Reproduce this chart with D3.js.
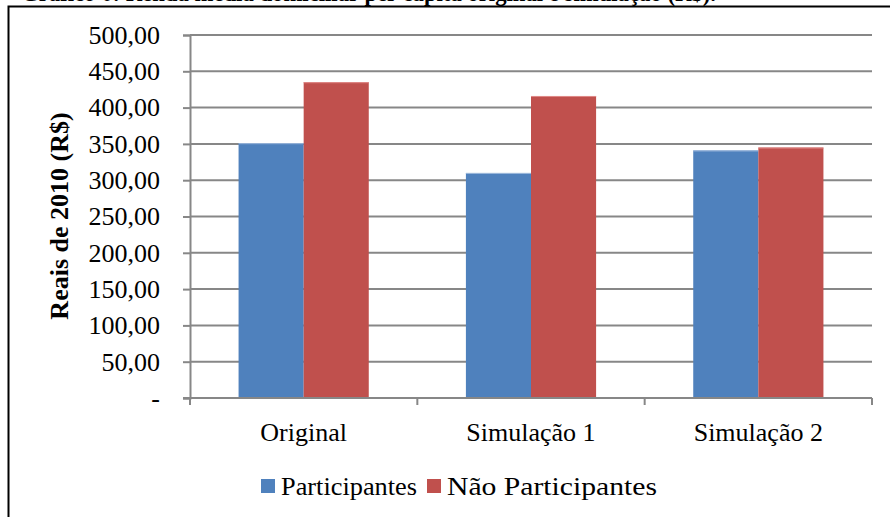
<!DOCTYPE html>
<html>
<head>
<meta charset="utf-8">
<script src="https://cdn.jsdelivr.net/npm/d3@7"></script>
<style>
  html, body { margin: 0; padding: 0; background: #fff; }
  svg { display: block; font-family: "Liberation Serif", "Times New Roman", serif; }
</style>
</head>
<body>
<svg id="chart" width="890" height="517"></svg>
<script>
// Mean income by scenario, in 2010 reais
const categories = ["Original", "Simulação 1", "Simulação 2"];
const seriesNames = ["Participantes", "Não Participantes"];
const participantes = [351, 310, 341];
const naoParticipantes = [435, 416, 345];
const yTicks = [0, 50, 100, 150, 200, 250, 300, 350, 400, 450, 500];
const colors = ["#4F81BD", "#C0504D"];

const svg = d3.select("#chart");
const W = 890, H = 517;
const FS = 26;
const GRID = "#878787";

// Figure caption above the frame (runs off the top of the page)
svg.append("text")
  .attr("x", 21).attr("y", 1)
  .attr("font-size", FS).attr("font-weight", "bold")
  .attr("textLength", 695).attr("lengthAdjust", "spacingAndGlyphs")
  .attr("fill", "#000")
  .text("Gráfico 6: Renda média domiciliar per capita original e simulação (R$).");

// Frame around the chart
svg.append("path")
  .attr("d", `M8.5,${H + 2} V6.5 H${W + 2}`)
  .attr("fill", "none").attr("stroke", "#000").attr("stroke-width", 2);

const plot = { left: 190, right: 872, top: 35, bottom: 398 };

const x = d3.scaleBand().domain(categories).range([plot.left, plot.right]);
const y = d3.scaleLinear().domain([0, 500]).range([plot.bottom, plot.top]);

// Horizontal gridlines
svg.append("g").selectAll("line").data(yTicks.filter(d => d > 0)).join("line")
  .attr("x1", plot.left).attr("x2", plot.right)
  .attr("y1", d => y(d)).attr("y2", d => y(d))
  .attr("stroke", GRID).attr("stroke-width", 2);

// Bars: two series side by side in each category band
const groupFrac = 130 / 227;
const bw = x.bandwidth() * groupFrac / 2;
const data = categories.map((c, i) => ({ c, vals: [participantes[i], naoParticipantes[i]] }));
const groups = svg.append("g").selectAll("g").data(data).join("g")
  .attr("transform", d => `translate(${x(d.c) + (x.bandwidth() - 2 * bw) / 2},0)`);
groups.selectAll("rect").data(d => d.vals).join("rect")
  .attr("x", (d, i) => i * bw)
  .attr("y", d => y(d))
  .attr("width", bw)
  .attr("height", d => y(0) - y(d))
  .attr("fill", (d, i) => colors[i]);
// light edge along the bar tops
groups.selectAll("line.edge").data(d => d.vals).join("line")
  .attr("class", "edge")
  .attr("x1", (d, i) => i * bw).attr("x2", (d, i) => (i + 1) * bw)
  .attr("y1", d => y(d) + 0.5).attr("y2", d => y(d) + 0.5)
  .attr("stroke", (d, i) => i === 0 ? "#9fb9dc" : "#e08a88").attr("stroke-width", 1);

// Y axis
const fmt = d => d === 0 ? "-" : d3.format(".2f")(d).replace(".", ",");
const yAxis = svg.append("g").attr("transform", `translate(${plot.left},0)`)
  .call(d3.axisLeft(y).tickValues(yTicks).tickSize(7).tickPadding(23).tickFormat(fmt));
yAxis.select(".domain").attr("stroke", GRID).attr("stroke-width", 2);
yAxis.selectAll(".tick line").attr("stroke", GRID).attr("stroke-width", 2);
yAxis.selectAll(".tick text")
  .attr("font-family", "Liberation Serif, Times New Roman, serif")
  .attr("font-size", FS).attr("fill", "#000");

// X axis
const xAxis = svg.append("g").attr("transform", `translate(0,${plot.bottom})`);
xAxis.append("line")
  .attr("x1", plot.left - 7).attr("x2", plot.right)
  .attr("y1", 0).attr("y2", 0)
  .attr("stroke", GRID).attr("stroke-width", 2);
const edges = categories.map(c => x(c)).concat([plot.right]);
xAxis.selectAll("line.tk").data(edges).join("line")
  .attr("class", "tk")
  .attr("x1", d => d).attr("x2", d => d)
  .attr("y1", 0).attr("y2", 7)
  .attr("stroke", GRID).attr("stroke-width", 2);
xAxis.selectAll("text").data(categories).join("text")
  .attr("x", d => x(d) + x.bandwidth() / 2)
  .attr("y", 43)
  .attr("text-anchor", "middle")
  .attr("font-size", FS).attr("fill", "#000")
  .text(d => d);

// Y axis title
svg.append("text")
  .attr("transform", "translate(68,216) rotate(-90)")
  .attr("text-anchor", "middle")
  .attr("font-size", FS).attr("font-weight", "bold")
  .text("Reais de 2010 (R$)");

// Legend
const legend = svg.append("g");
const legendX = [261, 427];
const legendLen = [136, 210];
seriesNames.forEach((name, i) => {
  legend.append("rect")
    .attr("x", legendX[i]).attr("y", 479)
    .attr("width", 14).attr("height", 14)
    .attr("fill", colors[i]);
  legend.append("text")
    .attr("x", legendX[i] + 20).attr("y", 495)
    .attr("font-size", FS).attr("fill", "#000")
    .attr("textLength", legendLen[i]).attr("lengthAdjust", "spacingAndGlyphs")
    .text(name);
});
</script>
</body>
</html>
